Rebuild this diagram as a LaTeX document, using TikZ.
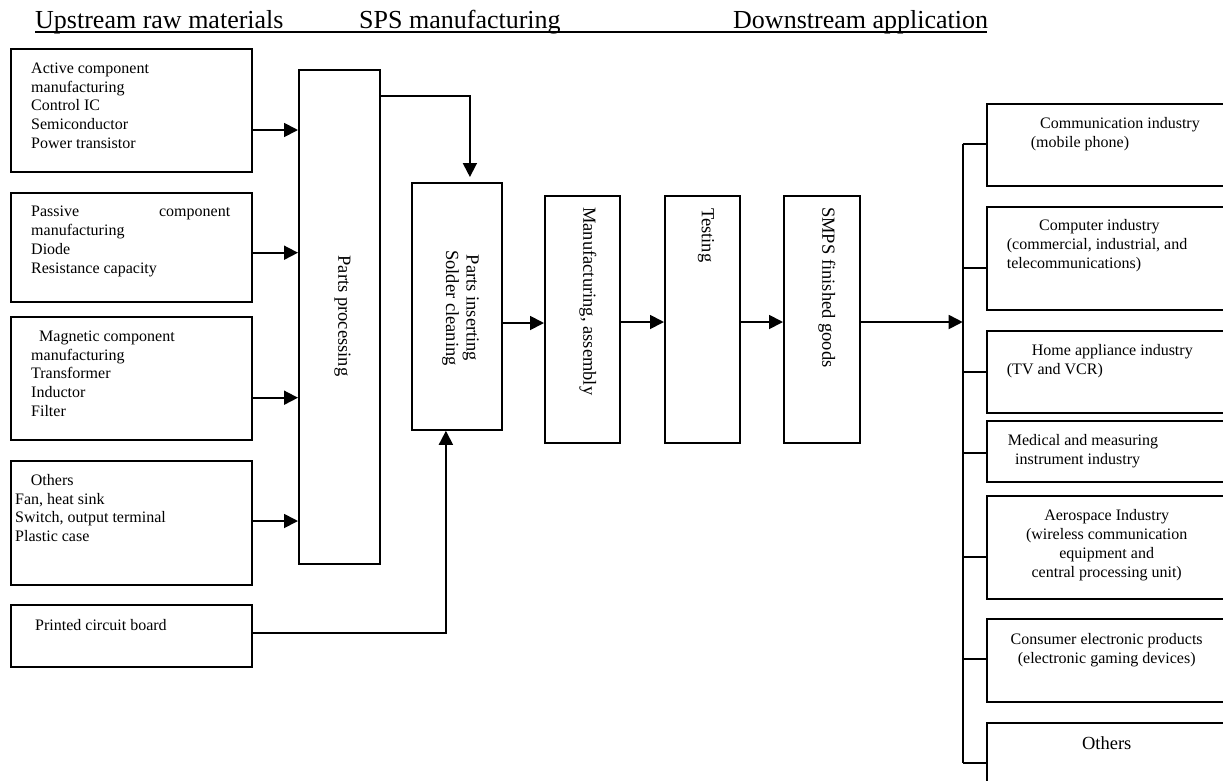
\documentclass[tikz,border=0pt]{standalone}
\usepackage{fontspec}
\setmainfont{Liberation Serif}
\usetikzlibrary{arrows.meta}
% fixed first-line height so text blocks can be placed by their top edge
\newcommand\boxtopstrut{\rule{0pt}{12pt}}
\begin{document}
\begin{tikzpicture}[x=1pt,y=-1pt,
  box/.style={draw, line width=1.8pt, rectangle, inner sep=0pt, anchor=north west},
  txt/.style={inner sep=0pt, anchor=north west, align=left, font=\fontsize{16}{18.8}\selectfont},
  ctxt/.style={inner sep=0pt, anchor=north, align=center, font=\fontsize{16}{18.8}\selectfont},
  vtxt/.style={inner sep=0pt, rotate=-90, align=center, font=\fontsize{18.5}{20.7}\selectfont},
  head/.style={inner sep=0pt, anchor=base west, font=\fontsize{26}{30}\selectfont},
  wire/.style={line width=1.8pt},
  arr/.style={wire, -{Triangle[length=14pt,width=14pt]}},
]
\clip (0,0) rectangle (1223,780);

% column headings with a common underline
\node[head] (h1) at (35,28.5) {Upstream raw materials};
\node[head] (h2) at (359,28.5) {SPS manufacturing};
\node[head] (h3) at (733,28.5) {Downstream application};
\coordinate (ulL) at (35,32);
\coordinate (ulR) at (987,32);
\draw[wire] (ulL) -- (ulR);

% upstream boxes
\node[box, minimum width=241pt, minimum height=123pt] (b1) at (10,48) {};
\node[box, minimum width=241pt, minimum height=109pt] (b2) at (10,192) {};
\node[box, minimum width=241pt, minimum height=123pt] (b3) at (10,316) {};
\node[box, minimum width=241pt, minimum height=124pt] (b4) at (10,460) {};
\node[box, minimum width=241pt, minimum height=62pt] (b5) at (10,604) {};

\node[txt] (t1) at (31,61) {\boxtopstrut Active component\\manufacturing\\Control IC\\Semiconductor\\Power transistor};
\node[txt] (t2) at (31,204.7) {\hbox to 199pt{\boxtopstrut Passive\hfill component}\\manufacturing\\Diode\\Resistance capacity};
\node[txt] (t3) at (31,329) {\boxtopstrut\hspace*{8pt}Magnetic component\\manufacturing\\Transformer\\Inductor\\Filter};
\node[txt] (t4) at (15,473) {\boxtopstrut\hspace*{15.7pt}Others\\Fan, heat sink\\Switch, output terminal\\Plastic case};
\node[txt] (t5) at (35,618) {\boxtopstrut Printed circuit board};

% manufacturing stages
\node[box, minimum width=81pt, minimum height=494pt] (pp) at (298,69) {};
\node[box, minimum width=90pt, minimum height=247pt] (pi) at (411,182) {};
\node[box, minimum width=75pt, minimum height=247pt] (ma) at (544,195) {};
\node[box, minimum width=75pt, minimum height=247pt] (te) at (664,195) {};
\node[box, minimum width=76pt, minimum height=247pt] (sm) at (783,195) {};

\node[vtxt] (tpp) at (342.5,316) {Parts processing};
\node[vtxt] (tpi) at (460.5,308) {Parts inserting\\Solder cleaning};
\node[vtxt, anchor=west] (tma) at (588,207) {Manufacturing, assembly};
\node[vtxt, anchor=west] (tte) at (706,208) {Testing};
\node[vtxt, anchor=west] (tsm) at (827,207) {SMPS finished goods};

% downstream application boxes (open to the right)
\node[box, minimum width=254pt, minimum height=82pt] (rA) at (986,103) {};
\node[box, minimum width=254pt, minimum height=103pt] (rB) at (986,206) {};
\node[box, minimum width=254pt, minimum height=82pt] (rC) at (986,330) {};
\node[box, minimum width=254pt, minimum height=61pt] (rD) at (986,420) {};
\node[box, minimum width=254pt, minimum height=103pt] (rE) at (986,495) {};
\node[box, minimum width=254pt, minimum height=83pt] (rF) at (986,618) {};
\node[box, minimum width=254pt, minimum height=81pt] (rG) at (986,722) {};

\node[txt] (tA) at (1030.7,116.3) {\boxtopstrut\hspace*{9.3pt}Communication industry\\(mobile phone)};
\node[txt] (tB) at (1006.7,218.7) {\boxtopstrut\hspace*{32.3pt}Computer industry\\(commercial, industrial, and\\telecommunications)};
\node[txt] (tC) at (1006.7,343) {\boxtopstrut\hspace*{25pt}Home appliance industry\\(TV and VCR)};
\node[txt] (tD) at (1007.7,433) {\boxtopstrut Medical and measuring\\\hspace*{7.3pt}instrument industry};
\node[ctxt] (tE) at (1106.7,508.7) {\boxtopstrut Aerospace Industry\\(wireless communication\\equipment and\\central processing unit)};
\node[ctxt] (tF) at (1106.7,632.3) {\boxtopstrut Consumer electronic products\\(electronic gaming devices)};
\node[ctxt, font=\fontsize{18.5}{20}\selectfont] (tG) at (1106.7,736) {\boxtopstrut Others};

% raw materials into parts processing
\draw[arr] (b1.east |- 0,130) -- (pp.west |- 0,130);
\draw[arr] (b2.east |- 0,252.7) -- (pp.west |- 0,252.7);
\draw[arr] (b3.east |- 0,397.7) -- (pp.west |- 0,397.7);
\draw[arr] (b4.east |- 0,521) -- (pp.west |- 0,521);

% feeds into parts inserting
\draw[arr, shorten >=5pt] (pp.east |- 0,96) -| ([xshift=13pt]pi.north);
\draw[arr] (b5.east |- 0,633) -| ([xshift=-11pt]pi.south);

% production chain
\draw[arr] (pi.east |- 0,323) -- (ma.west |- 0,323);
\draw[arr] (ma.east |- 0,322) -- (te.west |- 0,322);
\draw[arr] (te.east |- 0,322) -- (sm.west |- 0,322);

% distribution bus to the applications
\coordinate (busT) at (962.7,144);
\coordinate (busB) at (962.7,762.7);
\draw[arr] (sm.east |- 0,322) -- (busT |- 0,322);
\draw[wire] (busT) -- (busB);
\draw[wire] (busT) -- (rA.west |- busT);
\draw[wire] (busT |- 0,268) -- (rB.west |- 0,268);
\draw[wire] (busT |- 0,371.7) -- (rC.west |- 0,371.7);
\draw[wire] (busT |- 0,452.7) -- (rD.west |- 0,452.7);
\draw[wire] (busT |- 0,556.7) -- (rE.west |- 0,556.7);
\draw[wire] (busT |- 0,659.3) -- (rF.west |- 0,659.3);
\draw[wire] (busB) -- (rG.west |- busB);
\end{tikzpicture}
\end{document}
